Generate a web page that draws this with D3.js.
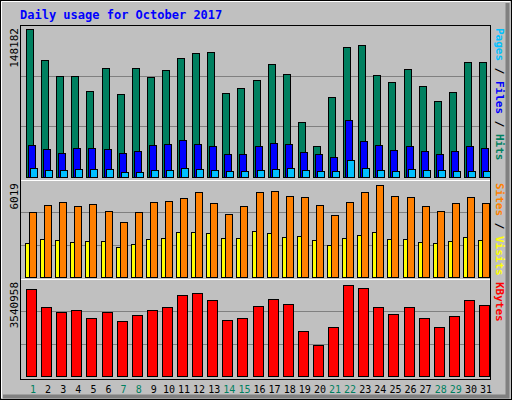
<!DOCTYPE html>
<html><head><meta charset="utf-8">
<script src="https://cdn.jsdelivr.net/npm/d3@7"></script>
<style>body{margin:0;background:#fff}svg{display:block}</style>
</head><body><div id="contenedor"></div>
<script>
// valores
dias = d3.range(1, 32)
finde = [1, 7, 8, 14, 15, 21, 22, 28, 29]
hits = [148182,117100,101100,101100,86100,109100,83100,109100,100100,107100,119100,124100,125100,84100,89100,97100,113100,103100,55100,31000,80100,130100,132100,102100,95100,108100,91100,76100,85100,115100,115100]
files = [32000,28000,24000,29000,29000,28000,24000,26000,32000,33000,37000,33000,31000,23000,23000,31000,34000,33000,25000,23000,20000,57000,36000,32000,27000,31000,26000,23000,26000,31000,29000]
pages = [9000,7000,7000,8000,8000,8000,5000,5000,7000,7000,9000,8000,7000,6000,6000,7000,8000,9000,7000,6000,6000,17000,9000,7000,6000,8000,7000,7000,6000,6000,6000]
sites = [4259,4715,4911,4650,4781,4324,3607,4259,4911,4976,5172,5563,4846,4129,4650,5563,5628,5302,5237,4715,4064,4911,5563,6019,5302,5237,4650,4324,4846,5237,4846]
visits = [2238,2499,2434,2303,2369,2369,1977,2173,2499,2564,2955,2955,2890,2564,2564,3020,2890,2629,2695,2434,2108,2564,2760,2955,2499,2499,2303,2238,2369,2629,2434]
kbytes = [3385800,2688000,2494100,2571700,2261500,2494100,2145200,2377800,2571700,2688000,3153200,3230800,2959400,2184000,2261500,2726800,2998100,2804300,1757500,1214800,1912600,3540958,3424600,2688000,2416600,2688000,2261500,1912600,2339100,2959400,2765500]

ancho = 512
alto = 400
fuente = "DejaVu Sans Mono, monospace"

svg = d3.select("#contenedor").append("svg")
    .attr("width", ancho).attr("height", alto)

svg.append("rect").attr("width", ancho).attr("height", alto).attr("fill", "#c0c0c0")
// borde 3d
svg.append("rect").attr("x", 0.5).attr("y", 0.5).attr("width", ancho - 1).attr("height", alto - 1)
    .attr("fill", "none").attr("stroke", "#000")
svg.append("path").attr("d", "M1.5,398V1.5H510").attr("fill", "none").attr("stroke", "#fff")
svg.append("path").attr("d", "M507.5,3V396.5H3").attr("fill", "none").attr("stroke", "#808080").attr("stroke-width", 4)

svg.append("text").attr("x", 20).attr("y", 19).text("Daily usage for October 2017")
    .attr("font-family", fuente).attr("font-weight", "bold").attr("font-size", 12).attr("fill", "#0000ff")

x = d3.scaleLinear().domain([1, 31]).range([33, 486])

paneles = [
    {top: 25, base: 177, maxpx: 148, max: 148182,
     series: [{d: hits, c: "#008060", dx: -7, w: 7}, {d: files, c: "#0000ff", dx: -5, w: 7}, {d: pages, c: "#00c0ff", dx: -3, w: 7}],
     etiq: [["Pages", "#00c0ff"], [" / ", "#000"], ["Files", "#0000ff"], [" / ", "#000"], ["Hits", "#008060"]]},
    {top: 180, base: 277, maxpx: 92.5, max: 6019,
     series: [{d: visits, c: "#ffff00", dx: -8, w: 4}, {d: sites, c: "#ff8000", dx: -4, w: 7}],
     etiq: [["Sites", "#ff8000"], [" / ", "#000"], ["Visits", "#ffff00"]]},
    {top: 279, base: 376, maxpx: 91.5, max: 3540958,
     series: [{d: kbytes, c: "#ff0000", dx: -7, w: 10}],
     etiq: [["KBytes", "#ff0000"]]}
]

paneles.forEach(function(p) {
    var y = d3.scaleLinear().domain([0, p.max]).range([p.base, p.base - p.maxpx])
    var alt = p.base - p.top
    ;[1, 2].forEach(function(k) {
        var gy = Math.round(p.base - alt * k / 3) + 0.5
        svg.append("line").attr("x1", 21).attr("x2", 490).attr("y1", gy).attr("y2", gy)
            .attr("stroke", "#808080")
    })
    p.series.forEach(function(s) {
        svg.append("g").selectAll("rect").data(s.d).enter().append("rect")
            .attr("x", function(d, i) { return Math.round(x(dias[i]) + s.dx) + 0.5 })
            .attr("y", function(d) { return Math.round(y(d)) + 0.5 })
            .attr("width", s.w)
            .attr("height", function(d) { return p.base - Math.round(y(d)) })
            .attr("fill", s.c).attr("stroke", "#000")
    })
    svg.append("text").attr("transform", "translate(18," + (p.top + 3) + ") rotate(-90)")
        .attr("text-anchor", "end").attr("font-family", fuente).attr("font-size", 11)
        .text(p.max)
    var t = svg.append("text").attr("transform", "translate(496," + (p.top + 3) + ") rotate(90)")
        .attr("font-family", fuente).attr("font-size", 11).attr("font-weight", "bold")
    p.etiq.forEach(function(e) { t.append("tspan").attr("fill", e[1]).text(e[0]) })
})

// marcos
;[[25, 180], [180, 279], [279, 379]].forEach(function(f) {
    svg.append("rect").attr("x", 20.5).attr("y", f[0] + 0.5).attr("width", 470).attr("height", f[1] - f[0])
        .attr("fill", "none").attr("stroke", "#000")
})
svg.append("path").attr("d", "M21,180.5H490M21,279.5H490").attr("stroke", "#fff")

svg.append("g").selectAll("text").data(dias).enter().append("text")
    .attr("x", function(d) { return x(d) }).attr("y", 393)
    .attr("text-anchor", "middle").attr("font-family", fuente).attr("font-size", 10)
    .attr("fill", function(d) { return finde.indexOf(d) >= 0 ? "#008060" : "#000" })
    .text(function(d) { return d })
</script></body></html>
